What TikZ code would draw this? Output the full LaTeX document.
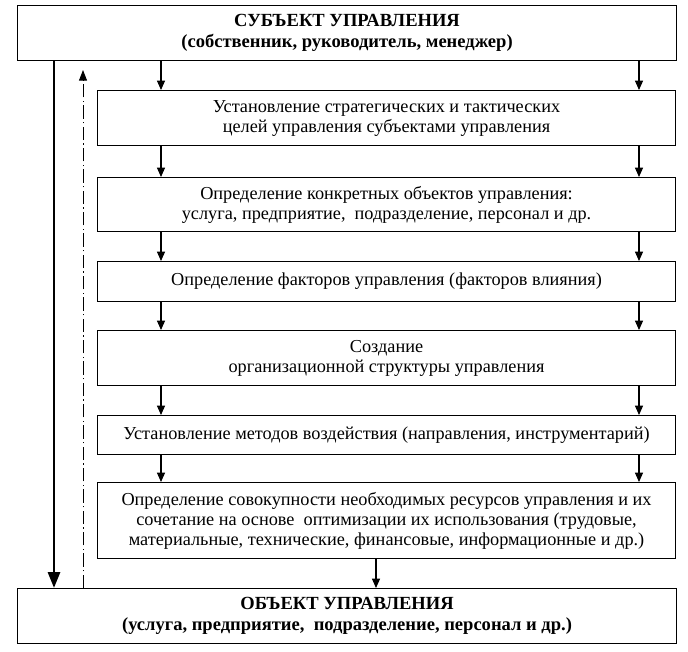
\documentclass[tikz,border=0pt]{standalone}
\usepackage{fontspec}
\setmainfont{Liberation Serif}
\usepackage{tikz}
\usetikzlibrary{arrows.meta,calc}
\tikzset{
  blok/.style={draw, line width=0.8pt, anchor=north west, align=center, inner sep=0pt,
    font=\fontsize{13.7}{15}\selectfont},
  kopf/.style={blok, font=\fontsize{13.9}{16}\selectfont\bfseries},
  pfeil/.style={line width=0.8pt, -{Triangle[length=7pt,width=6pt]}}
}
\begin{document}
\begin{tikzpicture}[x=0.75pt,y=-0.75pt]
\useasboundingbox (0,0) rectangle (688,651);
\node[kopf, minimum width=494.25pt, minimum height=41.25pt] (subj) at (17,5)
  {СУБЪЕКТ УПРАВЛЕНИЯ\\(собственник, руководитель, менеджер)};
\node[blok, minimum width=433.5pt, minimum height=41.25pt] (b1) at (97,90)
  {Установление стратегических и тактических\\целей управления субъектами управления};
\node[blok, minimum width=433.5pt, minimum height=40.5pt] (b2) at (97,177)
  {Определение конкретных объектов управления:\\услуга, предприятие,\ \ подразделение, персонал и др.};
\node[blok, minimum width=433.5pt, minimum height=30pt] (b3) at (97,261)
  {Определение факторов управления (факторов влияния)};
\node[blok, minimum width=433.5pt, minimum height=41.25pt] (b4) at (97,330)
  {Создание\\организационной структуры управления};
\node[blok, minimum width=433.5pt, minimum height=29.25pt] (b5) at (97,415)
  {Установление методов воздействия (направления, инструментарий)};
\node[blok, minimum width=433.5pt, minimum height=57pt] (b6) at (97,482)
  {Определение совокупности необходимых ресурсов управления и их\\сочетание на основе\ \ оптимизации их использования (трудовые,\\материальные, технические, финансовые, информационные и др.)};
\node[kopf, minimum width=494.25pt, minimum height=41.25pt] (obj) at (17,588)
  {ОБЪЕКТ УПРАВЛЕНИЯ\\(услуга, предприятие,\ \ подразделение, персонал и др.)};
\coordinate (L) at (161,0);
\coordinate (R) at (639,0);
\coordinate (M) at (376,0);
\coordinate (T) at (54,0);
\coordinate (ruck) at (83,70);
\foreach \a/\b in {subj/b1,b1/b2,b2/b3,b3/b4,b4/b5,b5/b6}
  \foreach \c in {L,R}
    \draw[pfeil] (\a.south -| \c) -- (\b.north -| \c);
\draw[pfeil] (b6.south -| M) -- (obj.north -| M);
\draw[line width=2.2pt, -{Triangle[length=12pt,width=9pt]}] (subj.south -| T) -- (obj.north -| T);
\draw[line width=0.7pt, dash pattern=on 10pt off 2.5pt on 1pt off 2.5pt, -{Triangle[length=8pt,width=6pt]}] (obj.north -| ruck) -- (ruck);
\end{tikzpicture}
\end{document}
